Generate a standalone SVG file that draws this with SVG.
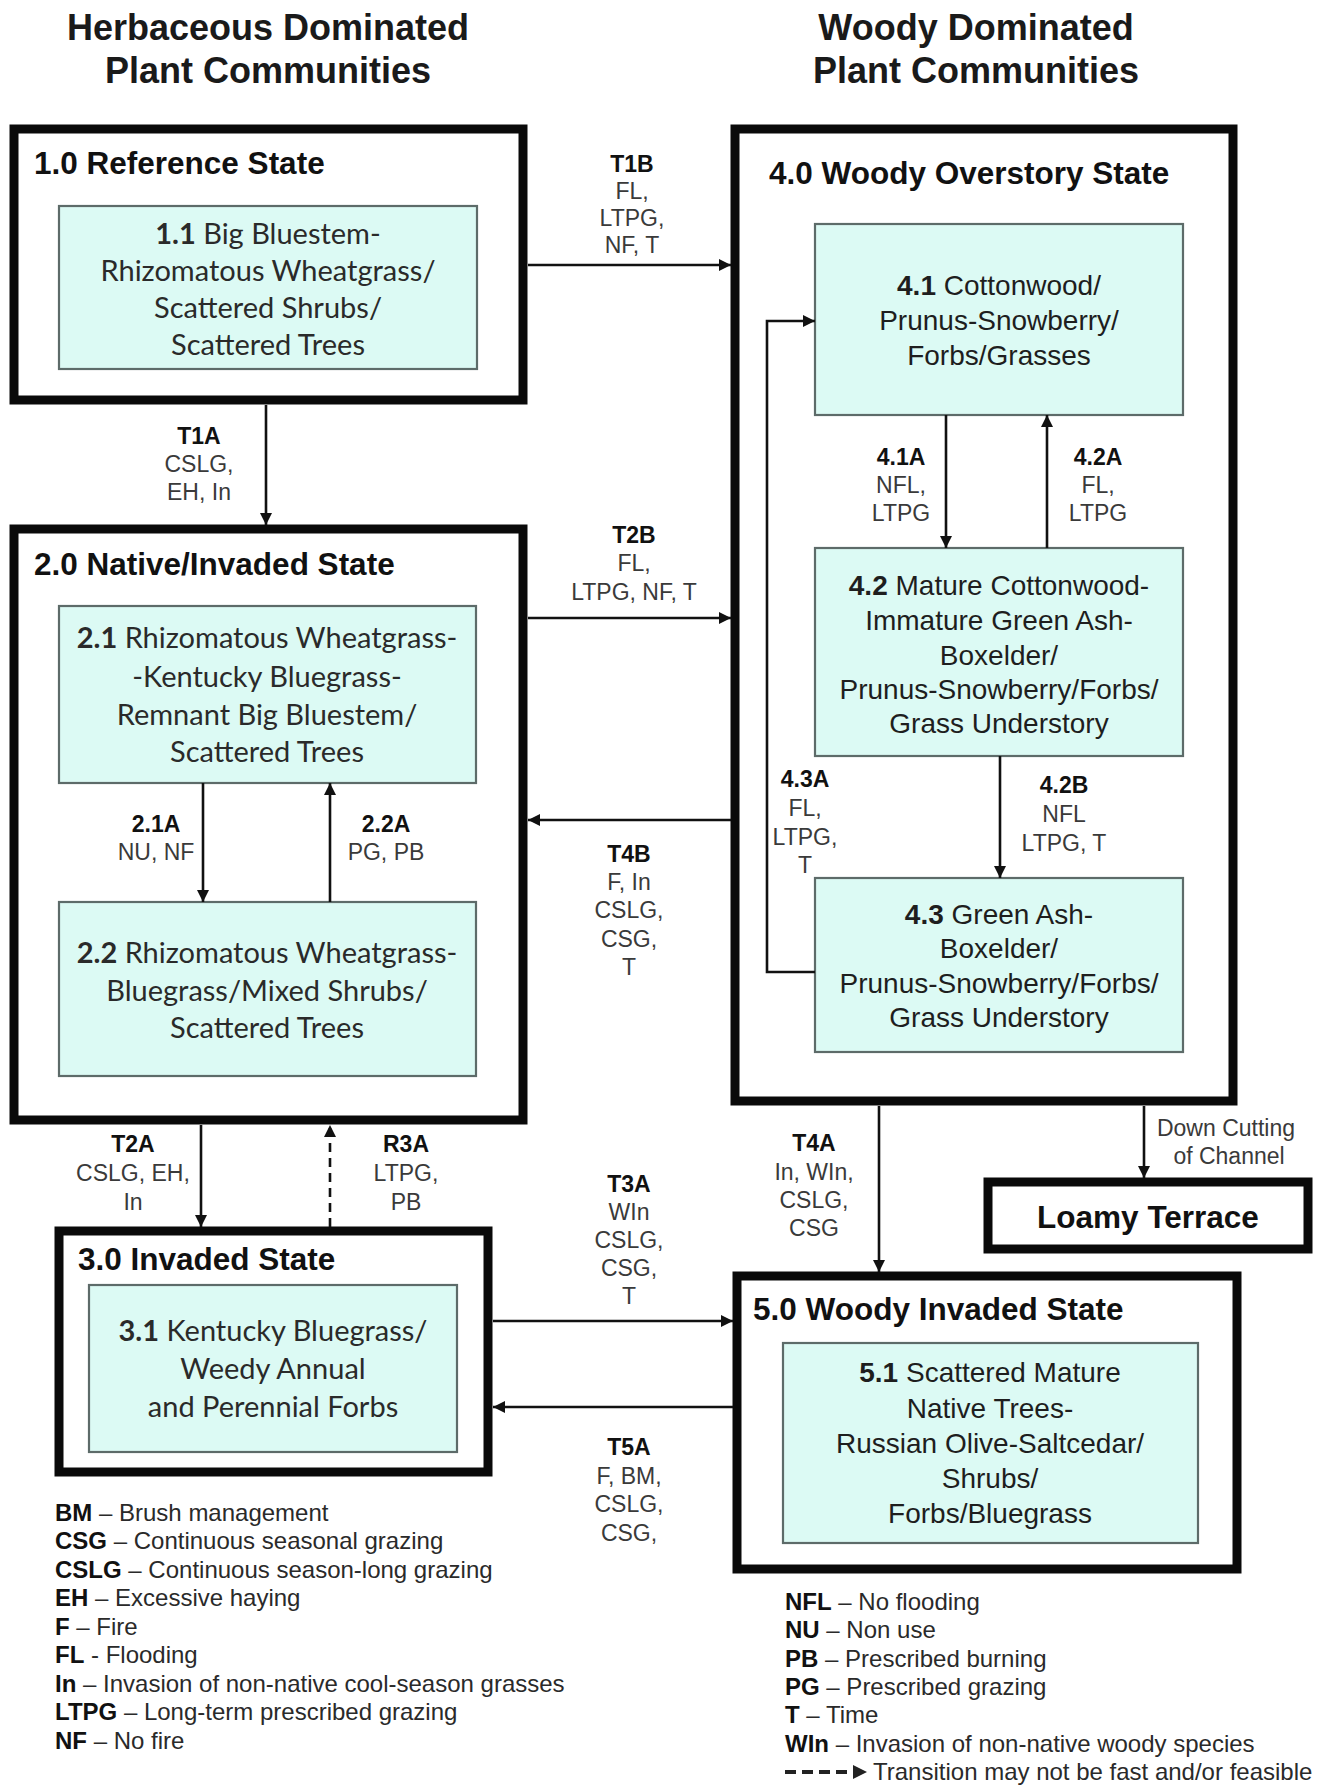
<svg xmlns="http://www.w3.org/2000/svg" width="1320" height="1786" viewBox="0 0 1320 1786">
<defs>
<marker id="ah" viewBox="0 0 10 10" refX="10" refY="5" markerWidth="13" markerHeight="12" markerUnits="userSpaceOnUse" orient="auto">
<path d="M0,0 L10,5 L0,10 z" fill="#111"/>
</marker>
<marker id="ahl" viewBox="0 0 10 10" refX="0" refY="5" markerWidth="14" markerHeight="14" markerUnits="userSpaceOnUse" orient="auto">
<path d="M0,0 L10,5 L0,10 z" fill="#111"/>
</marker>
</defs>
<style>
.bg{fill:#fff}
.state{fill:#fff;stroke:#0a0a0a;stroke-width:9}
.comm{fill:#dcfaf4;stroke:#5d6b69;stroke-width:2.2}
.title{font-family:"Liberation Sans",Arial,sans-serif;font-weight:bold;font-size:36px;fill:#1a1a1a;text-anchor:middle}
.shead{font-family:"Liberation Sans",Arial,sans-serif;font-weight:bold;font-size:31.5px;fill:#111}
.cal{font-family:Lato,"Open Sans",sans-serif;font-size:29px;fill:#2a2a2a;text-anchor:middle}
.ari{font-family:"Liberation Sans",Arial,sans-serif;font-size:28px;fill:#1e1e1e;text-anchor:middle}
.b{font-weight:bold}
.lab{font-family:"Liberation Sans",Arial,sans-serif;font-size:23px;fill:#3a3a3a;text-anchor:middle}
.labb{font-weight:bold;fill:#111}
.leg{font-family:"Liberation Sans",Arial,sans-serif;font-size:24px;fill:#2a2a2a}
.conn{fill:none;stroke:#111;stroke-width:2.6}
.dash{stroke-dasharray:9 6}
</style>
<rect class="bg" x="0" y="0" width="1320" height="1786"/>

<g id="titles">
<text class="title" x="268" y="40">Herbaceous Dominated</text>
<text class="title" x="268" y="83">Plant Communities</text>
<text class="title" x="976" y="40">Woody Dominated</text>
<text class="title" x="976" y="83">Plant Communities</text>
</g>

<g id="state1">
<rect class="state" x="14" y="129" width="509" height="271"/>
<text class="shead" x="34" y="174">1.0 Reference State</text>
<g id="comm11">
<rect class="comm" x="59" y="206" width="418" height="163"/>
<text class="cal" x="268" y="244"><tspan class="b">1.1</tspan> Big Bluestem-</text>
<text class="cal" x="268" y="281">Rhizomatous Wheatgrass/</text>
<text class="cal" x="268" y="318">Scattered Shrubs/</text>
<text class="cal" x="268" y="355">Scattered Trees</text>
</g>
</g>

<g id="state2">
<rect class="state" x="14" y="529" width="509" height="591"/>
<text class="shead" x="34" y="575">2.0 Native/Invaded State</text>
<g id="comm21">
<rect class="comm" x="59" y="606" width="417" height="177"/>
<text class="cal" x="267" y="648"><tspan class="b">2.1</tspan> Rhizomatous Wheatgrass-</text>
<text class="cal" x="267" y="687">-Kentucky Bluegrass-</text>
<text class="cal" x="267" y="725">Remnant Big Bluestem/</text>
<text class="cal" x="267" y="762">Scattered Trees</text>
</g>
<g id="comm22">
<rect class="comm" x="59" y="902" width="417" height="174"/>
<text class="cal" x="267" y="963"><tspan class="b">2.2</tspan> Rhizomatous Wheatgrass-</text>
<text class="cal" x="267" y="1001">Bluegrass/Mixed Shrubs/</text>
<text class="cal" x="267" y="1038">Scattered Trees</text>
</g>
</g>

<g id="state3">
<rect class="state" x="59" y="1231" width="429" height="241"/>
<text class="shead" x="78" y="1270">3.0 Invaded State</text>
<g id="comm31">
<rect class="comm" x="89" y="1285" width="368" height="167"/>
<text class="cal" x="273" y="1341"><tspan class="b">3.1</tspan> Kentucky Bluegrass/</text>
<text class="cal" x="273" y="1379">Weedy Annual</text>
<text class="cal" x="273" y="1417">and Perennial Forbs</text>
</g>
</g>

<g id="state4">
<rect class="state" x="735" y="129" width="498" height="972"/>
<text class="shead" x="769" y="184">4.0 Woody Overstory State</text>
<g id="comm41">
<rect class="comm" x="815" y="224" width="368" height="191"/>
<text class="ari" x="999" y="295"><tspan class="b">4.1</tspan> Cottonwood/</text>
<text class="ari" x="999" y="330">Prunus-Snowberry/</text>
<text class="ari" x="999" y="365">Forbs/Grasses</text>
</g>
<g id="comm42">
<rect class="comm" x="815" y="548" width="368" height="208"/>
<text class="ari" x="999" y="595"><tspan class="b">4.2</tspan> Mature Cottonwood-</text>
<text class="ari" x="999" y="630">Immature Green Ash-</text>
<text class="ari" x="999" y="665">Boxelder/</text>
<text class="ari" x="999" y="699">Prunus-Snowberry/Forbs/</text>
<text class="ari" x="999" y="733">Grass Understory</text>
</g>
<g id="comm43">
<rect class="comm" x="815" y="878" width="368" height="174"/>
<text class="ari" x="999" y="924"><tspan class="b">4.3</tspan> Green Ash-</text>
<text class="ari" x="999" y="958">Boxelder/</text>
<text class="ari" x="999" y="993">Prunus-Snowberry/Forbs/</text>
<text class="ari" x="999" y="1027">Grass Understory</text>
</g>
</g>

<g id="state5">
<rect class="state" x="737" y="1276" width="500" height="293"/>
<text class="shead" x="753" y="1320">5.0 Woody Invaded State</text>
<g id="comm51">
<rect class="comm" x="783" y="1343" width="415" height="200"/>
<text class="ari" x="990" y="1382"><tspan class="b">5.1</tspan> Scattered Mature</text>
<text class="ari" x="990" y="1418">Native Trees-</text>
<text class="ari" x="990" y="1453">Russian Olive-Saltcedar/</text>
<text class="ari" x="990" y="1488">Shrubs/</text>
<text class="ari" x="990" y="1523">Forbs/Bluegrass</text>
</g>
</g>

<g id="loamy">
<rect class="state" x="988" y="1182" width="320" height="67"/>
<text class="shead" x="1148" y="1228" text-anchor="middle">Loamy Terrace</text>
</g>

<g id="connectors">
<line class="conn" x1="266" y1="405" x2="266" y2="525" marker-end="url(#ah)"/>
<line class="conn" x1="528" y1="265" x2="731" y2="265" marker-end="url(#ah)"/>
<line class="conn" x1="528" y1="618" x2="731" y2="618" marker-end="url(#ah)"/>
<line class="conn" x1="731" y1="820" x2="528" y2="820" marker-end="url(#ah)"/>
<line class="conn" x1="203" y1="783" x2="203" y2="902" marker-end="url(#ah)"/>
<line class="conn" x1="330" y1="902" x2="330" y2="783" marker-end="url(#ah)"/>
<line class="conn" x1="201" y1="1125" x2="201" y2="1227" marker-end="url(#ah)"/>
<line class="conn dash" x1="330" y1="1227" x2="330" y2="1125" marker-end="url(#ah)"/>
<line class="conn" x1="493" y1="1321" x2="733" y2="1321" marker-end="url(#ah)"/>
<line class="conn" x1="733" y1="1407" x2="493" y2="1407" marker-end="url(#ah)"/>
<line class="conn" x1="879" y1="1106" x2="879" y2="1272" marker-end="url(#ah)"/>
<line class="conn" x1="1144" y1="1106" x2="1144" y2="1178" marker-end="url(#ah)"/>
<line class="conn" x1="946" y1="415" x2="946" y2="548" marker-end="url(#ah)"/>
<line class="conn" x1="1047" y1="548" x2="1047" y2="415" marker-end="url(#ah)"/>
<line class="conn" x1="1000" y1="756" x2="1000" y2="878" marker-end="url(#ah)"/>
<polyline class="conn" points="815,972 767,972 767,321 815,321" marker-end="url(#ah)"/>
</g>

<g id="labels">
<text class="lab labb" x="199" y="444">T1A</text>
<text class="lab" x="199" y="472">CSLG,</text>
<text class="lab" x="199" y="500">EH, In</text>

<text class="lab labb" x="632" y="172">T1B</text>
<text class="lab" x="632" y="199">FL,</text>
<text class="lab" x="632" y="226">LTPG,</text>
<text class="lab" x="632" y="253">NF, T</text>

<text class="lab labb" x="634" y="543">T2B</text>
<text class="lab" x="634" y="571">FL,</text>
<text class="lab" x="634" y="600">LTPG, NF, T</text>

<text class="lab labb" x="629" y="862">T4B</text>
<text class="lab" x="629" y="890">F, In</text>
<text class="lab" x="629" y="918">CSLG,</text>
<text class="lab" x="629" y="947">CSG,</text>
<text class="lab" x="629" y="975">T</text>

<text class="lab labb" x="156" y="832">2.1A</text>
<text class="lab" x="156" y="860">NU, NF</text>
<text class="lab labb" x="386" y="832">2.2A</text>
<text class="lab" x="386" y="860">PG, PB</text>

<text class="lab labb" x="133" y="1152">T2A</text>
<text class="lab" x="133" y="1181">CSLG, EH,</text>
<text class="lab" x="133" y="1210">In</text>
<text class="lab labb" x="406" y="1152">R3A</text>
<text class="lab" x="406" y="1181">LTPG,</text>
<text class="lab" x="406" y="1210">PB</text>

<text class="lab labb" x="629" y="1192">T3A</text>
<text class="lab" x="629" y="1220">WIn</text>
<text class="lab" x="629" y="1248">CSLG,</text>
<text class="lab" x="629" y="1276">CSG,</text>
<text class="lab" x="629" y="1304">T</text>

<text class="lab labb" x="629" y="1455">T5A</text>
<text class="lab" x="629" y="1484">F, BM,</text>
<text class="lab" x="629" y="1512">CSLG,</text>
<text class="lab" x="629" y="1541">CSG,</text>

<text class="lab labb" x="814" y="1151">T4A</text>
<text class="lab" x="814" y="1180">In, WIn,</text>
<text class="lab" x="814" y="1208">CSLG,</text>
<text class="lab" x="814" y="1236">CSG</text>

<text class="lab" x="1226" y="1136">Down Cutting</text>
<text class="lab" x="1229" y="1164">of Channel</text>

<text class="lab labb" x="901" y="465">4.1A</text>
<text class="lab" x="901" y="493">NFL,</text>
<text class="lab" x="901" y="521">LTPG</text>
<text class="lab labb" x="1098" y="465">4.2A</text>
<text class="lab" x="1098" y="493">FL,</text>
<text class="lab" x="1098" y="521">LTPG</text>

<text class="lab labb" x="1064" y="793">4.2B</text>
<text class="lab" x="1064" y="822">NFL</text>
<text class="lab" x="1064" y="851">LTPG, T</text>

<text class="lab labb" x="805" y="787">4.3A</text>
<text class="lab" x="805" y="816">FL,</text>
<text class="lab" x="805" y="845">LTPG,</text>
<text class="lab" x="805" y="873">T</text>
</g>

<g id="legend-left" class="leg">
<text x="55" y="1521"><tspan class="b" fill="#111">BM</tspan> – Brush management</text>
<text x="55" y="1549"><tspan class="b" fill="#111">CSG</tspan> – Continuous seasonal grazing</text>
<text x="55" y="1578"><tspan class="b" fill="#111">CSLG</tspan> – Continuous season-long grazing</text>
<text x="55" y="1606"><tspan class="b" fill="#111">EH</tspan> – Excessive haying</text>
<text x="55" y="1635"><tspan class="b" fill="#111">F</tspan> – Fire</text>
<text x="55" y="1663"><tspan class="b" fill="#111">FL</tspan> - Flooding</text>
<text x="55" y="1692"><tspan class="b" fill="#111">In</tspan> – Invasion of non-native cool-season grasses</text>
<text x="55" y="1720"><tspan class="b" fill="#111">LTPG</tspan> – Long-term prescribed grazing</text>
<text x="55" y="1749"><tspan class="b" fill="#111">NF</tspan> – No fire</text>
</g>

<g id="legend-right" class="leg">
<text x="785" y="1610"><tspan class="b" fill="#111">NFL</tspan> – No flooding</text>
<text x="785" y="1638"><tspan class="b" fill="#111">NU</tspan> – Non use</text>
<text x="785" y="1667"><tspan class="b" fill="#111">PB</tspan> – Prescribed burning</text>
<text x="785" y="1695"><tspan class="b" fill="#111">PG</tspan> – Prescribed grazing</text>
<text x="785" y="1723"><tspan class="b" fill="#111">T</tspan> – Time</text>
<text x="785" y="1752"><tspan class="b" fill="#111">WIn</tspan> – Invasion of non-native woody species</text>
<line x1="785" y1="1772" x2="853" y2="1772" stroke="#222" stroke-width="4" stroke-dasharray="11 6"/>
<path d="M853,1765 L867,1772 L853,1779 z" fill="#222"/>
<text x="873" y="1780">Transition may not be fast and/or feasible</text>
</g>
</svg>
